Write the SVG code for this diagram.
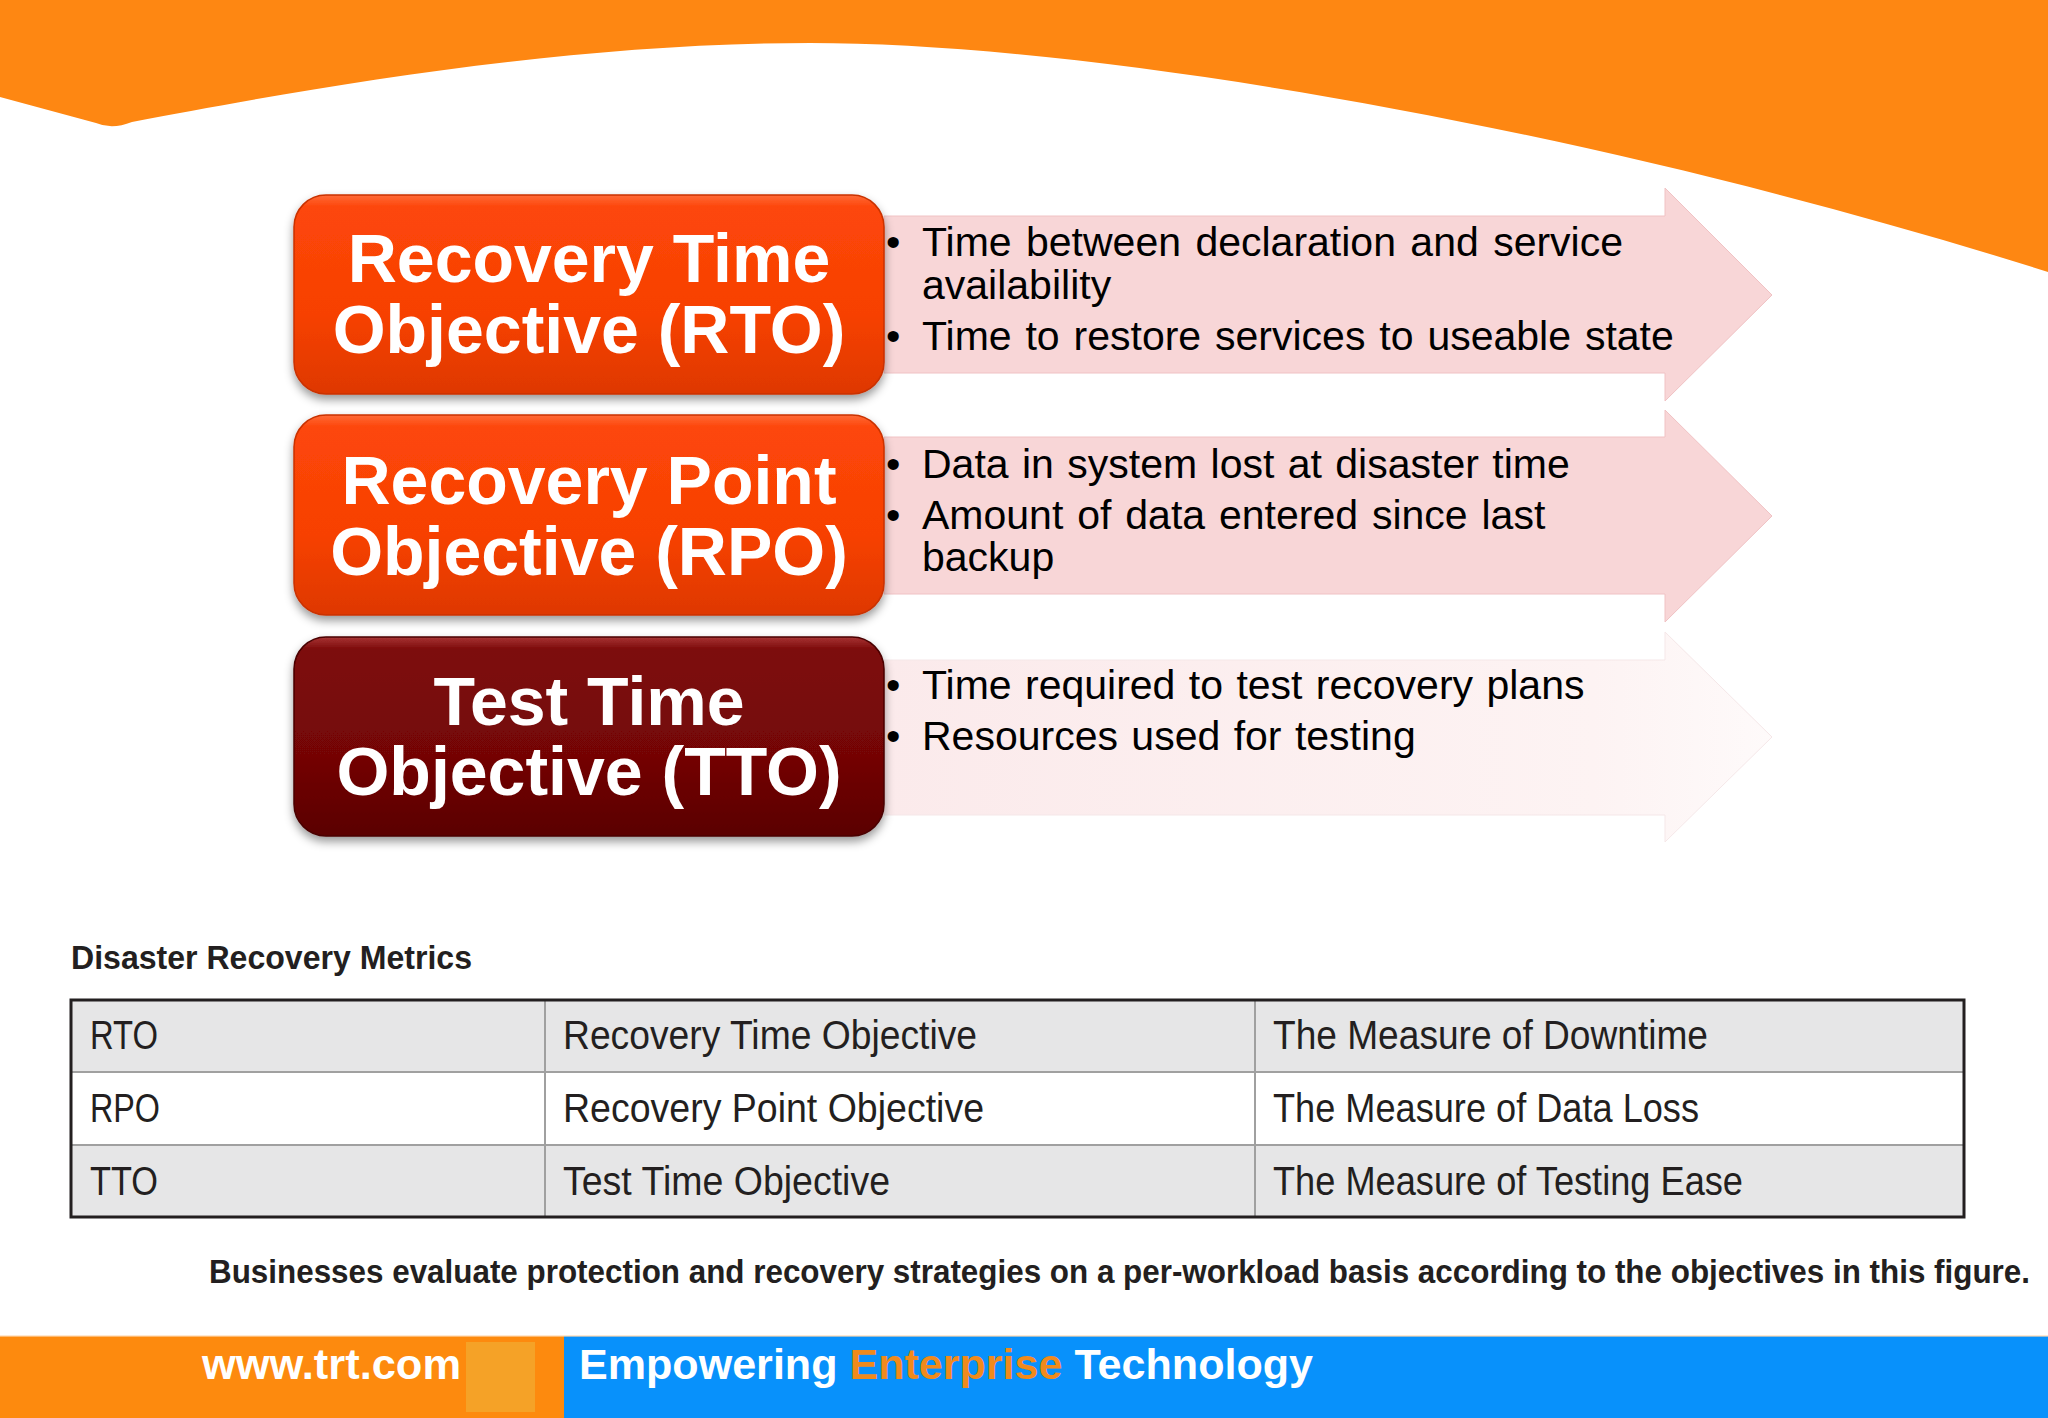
<svg xmlns="http://www.w3.org/2000/svg" width="2048" height="1418" viewBox="0 0 2048 1418">
  <defs>
    <linearGradient id="gOrange" x1="0" y1="0" x2="0" y2="1">
      <stop offset="0" stop-color="#ff6a38"/>
      <stop offset="0.06" stop-color="#fd4608"/>
      <stop offset="0.6" stop-color="#f74104"/>
      <stop offset="1" stop-color="#de3803"/>
    </linearGradient>
    <linearGradient id="gRed" x1="0" y1="0" x2="0" y2="1">
      <stop offset="0" stop-color="#a83535"/>
      <stop offset="0.06" stop-color="#7d0a0a"/>
      <stop offset="0.6" stop-color="#740606"/>
      <stop offset="1" stop-color="#5a0303"/>
    </linearGradient>
    <linearGradient id="gFade" x1="0" y1="0" x2="1" y2="0">
      <stop offset="0" stop-color="#fbeaeb"/>
      <stop offset="0.8" stop-color="#fdf3f3"/>
      <stop offset="1" stop-color="#fefafa"/>
    </linearGradient>
    <filter id="shadow" x="-10%" y="-10%" width="120%" height="130%">
      <feDropShadow dx="0" dy="5" stdDeviation="5" flood-color="#000" flood-opacity="0.4"/>
    </filter>
    <style>
      .box { stroke-width: 1.5; filter: url(#shadow); }
      .boxText { font-family: "Liberation Sans", Arial, sans-serif; font-weight: bold; font-size: 68px; fill: #ffffff; text-anchor: middle; }
      .arrowPink { fill: #f8d6d7; stroke: #f0c2c4; stroke-width: 1; }
      .bullet { font-family: "Liberation Sans", Arial, sans-serif; font-size: 41px; fill: #000; }
      .cell { font-family: "Liberation Sans", Arial, sans-serif; font-size: 40px; fill: #231f20; }
      .hdr { font-family: "Liberation Sans", Arial, sans-serif; font-weight: bold; font-size: 33px; fill: #231f20; }
      .inner { stroke: #a0a0a0; stroke-width: 2; fill: none; }
      .foot { font-family: "Liberation Sans", Arial, sans-serif; font-weight: bold; font-size: 42px; fill: #ffffff; }
    </style>
  </defs>

  <rect x="0" y="0" width="2048" height="1418" fill="#ffffff"/>

  <g id="top-wave">
    <path d="M0,0 H2048 V272 C1600,130 1100,43 810,43 C560,43 300,90 132,122 Q112,130 96,123 L0,97 Z" fill="#fe8712"/>
  </g>

  <g id="detail-rto">
    <path class="arrowPink" d="M884,216 H1665 V188 L1772,295 L1665,401 V373 H884 Z"/>
    <text class="bullet" x="886" y="256">•</text>
    <text class="bullet" x="922" y="256" word-spacing="3">Time between declaration and service</text>
    <text class="bullet" x="922" y="299">availability</text>
    <text class="bullet" x="886" y="350">•</text>
    <text class="bullet" x="922" y="350" word-spacing="2.5">Time to restore services to useable state</text>
  </g>

  <g id="detail-rpo">
    <path class="arrowPink" d="M884,437 H1665 V410 L1772,516 L1665,622 V594 H884 Z"/>
    <text class="bullet" x="886" y="478">•</text>
    <text class="bullet" x="922" y="478" word-spacing="2">Data in system lost at disaster time</text>
    <text class="bullet" x="886" y="529">•</text>
    <text class="bullet" x="922" y="529" word-spacing="2.5">Amount of data entered since last</text>
    <text class="bullet" x="922" y="571">backup</text>
  </g>

  <g id="detail-tto">
    <path d="M884,660 H1665 V632 L1772,737 L1665,842 V815 H884 Z" fill="url(#gFade)" stroke="#f5e7e8" stroke-width="1"/>
    <text class="bullet" x="886" y="699">•</text>
    <text class="bullet" x="922" y="699" word-spacing="2">Time required to test recovery plans</text>
    <text class="bullet" x="886" y="750">•</text>
    <text class="bullet" x="922" y="750" word-spacing="2">Resources used for testing</text>
  </g>

  <g id="node-rto">
    <rect class="box" x="294" y="195" width="590" height="199" rx="32" fill="url(#gOrange)" stroke="#c93100"/>
    <text class="boxText" x="589" y="282">Recovery Time</text>
    <text class="boxText" x="589" y="353">Objective (RTO)</text>
  </g>

  <g id="node-rpo">
    <rect class="box" x="294" y="415" width="590" height="200" rx="32" fill="url(#gOrange)" stroke="#c93100"/>
    <text class="boxText" x="589" y="504">Recovery Point</text>
    <text class="boxText" x="589" y="575">Objective (RPO)</text>
  </g>

  <g id="node-tto">
    <rect class="box" x="294" y="637" width="590" height="199" rx="32" fill="url(#gRed)" stroke="#4a0202"/>
    <text class="boxText" x="589" y="725">Test Time</text>
    <text class="boxText" x="589" y="795">Objective (TTO)</text>
  </g>

  <g id="table">
    <text class="hdr" x="71" y="969" textLength="401" lengthAdjust="spacingAndGlyphs">Disaster Recovery Metrics</text>
    <rect x="71" y="1000" width="1893" height="72" fill="#e6e6e7"/>
    <rect x="71" y="1072" width="1893" height="73" fill="#ffffff"/>
    <rect x="71" y="1145" width="1893" height="72" fill="#e6e6e7"/>
    <line class="inner" x1="71" y1="1072" x2="1964" y2="1072"/>
    <line class="inner" x1="71" y1="1145" x2="1964" y2="1145"/>
    <line class="inner" x1="545" y1="1000" x2="545" y2="1217"/>
    <line class="inner" x1="1255" y1="1000" x2="1255" y2="1217"/>
    <rect x="71" y="1000" width="1893" height="217" fill="none" stroke="#231f20" stroke-width="3"/>
    <text class="cell" x="90" y="1049" textLength="68" lengthAdjust="spacingAndGlyphs">RTO</text>
    <text class="cell" x="563" y="1049" textLength="414" lengthAdjust="spacingAndGlyphs">Recovery Time Objective</text>
    <text class="cell" x="1273" y="1049" textLength="435" lengthAdjust="spacingAndGlyphs">The Measure of Downtime</text>
    <text class="cell" x="90" y="1122" textLength="70" lengthAdjust="spacingAndGlyphs">RPO</text>
    <text class="cell" x="563" y="1122" textLength="421" lengthAdjust="spacingAndGlyphs">Recovery Point Objective</text>
    <text class="cell" x="1273" y="1122" textLength="426" lengthAdjust="spacingAndGlyphs">The Measure of Data Loss</text>
    <text class="cell" x="90" y="1195" textLength="68" lengthAdjust="spacingAndGlyphs">TTO</text>
    <text class="cell" x="563" y="1195" textLength="327" lengthAdjust="spacingAndGlyphs">Test Time Objective</text>
    <text class="cell" x="1273" y="1195" textLength="470" lengthAdjust="spacingAndGlyphs">The Measure of Testing Ease</text>
  </g>

  <g id="caption">
    <text class="hdr" x="209" y="1283" textLength="1821" lengthAdjust="spacingAndGlyphs">Businesses evaluate protection and recovery strategies on a per-workload basis according to the objectives in this figure.</text>
  </g>

  <g id="footer">
    <rect x="0" y="1336" width="564" height="82" fill="#fd8a0e"/>
    <rect x="564" y="1336" width="1484" height="82" fill="#0891fb"/>
    <rect x="0" y="1335" width="2048" height="2" fill="#ffd9b0" opacity="0.6"/>
    <rect x="466" y="1342" width="69" height="70" fill="#f5a227"/>
    <text class="foot" x="202" y="1379" textLength="259" lengthAdjust="spacingAndGlyphs">www.trt.com</text>
    <text class="foot" x="579" y="1379" textLength="734" lengthAdjust="spacingAndGlyphs">Empowering <tspan fill="#f08a1c">Enterprise</tspan> Technology</text>
  </g>
</svg>
